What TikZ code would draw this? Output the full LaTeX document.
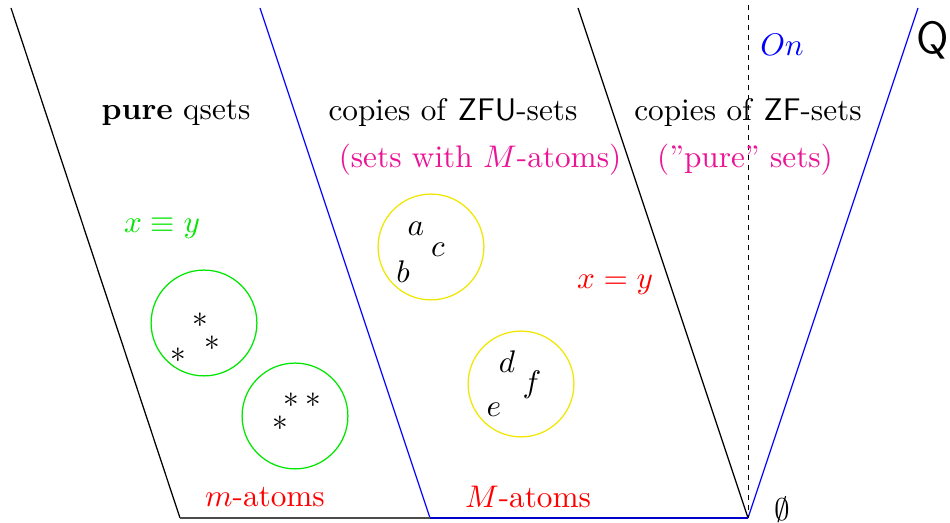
\documentclass[tikz,border=0pt]{standalone}
\usepackage{amsmath, amssymb}
\usepackage{tikz}
\usetikzlibrary{positioning}
\definecolor{SetPink}{RGB}{235, 20, 150}
\definecolor{PureGreen}{RGB}{0, 230, 0}
\definecolor{AtomYellow}{RGB}{240, 230, 0}

\begin{document}
\begin{tikzpicture}[x=0.01125cm, y=-0.01125cm,
    blob/.style={circle, draw, thin, minimum size=1.19cm, inner sep=0pt}]
    \useasboundingbox (0,0) rectangle (950,523);

    % Boundaries
    \coordinate (tl) at (11,8);
    \coordinate (bl) at (180,518);
    \coordinate (tm) at (260,8);
    \coordinate (bm) at (430,518);
    \coordinate (tr) at (578,8);
    \coordinate (br) at (748,518);
    \coordinate (tq) at (918,8);
    \coordinate (to) at (748,5);

    \draw[thin] (tl) -- (bl);
    \draw[thin, blue] (tm) -- (bm);
    \draw[thin] (tr) -- (br);
    \draw[thin, blue] (br) -- (tq);
    \draw[very thin, dash pattern=on 1.6pt off 1.6pt] (to) -- (br);
    \draw[semithick, black!70] (bl) -- (bm);
    \draw[semithick, blue!80!black] (bm) -- (br);

    % Headers
    \node (pure) at (176,113) {\textbf{pure} qsets};
    \node (zfu) at (453,113) {copies of \textsf{ZFU}-sets};
    \node[SetPink] (zfuatoms) at (480,160) {(sets with $M$-atoms)};
    \node (zf) at (748,113) {copies of \textsf{ZF}-sets};
    \node[SetPink] (zfpure) at (745,160) {(''pure'' sets)};
    \node[blue] (on) at (782,45) {$On$};
    \node[font=\Large\sffamily] (q) at (933,40) {Q};

    % Equalities
    \node[PureGreen] (equiv) at (162,228) {$x \equiv y$};
    \node[red] (eq) at (615,285) {$x = y$};

    % Atoms
    \node[red] (matoms) at (265,497) {$m$-atoms};
    \node[red] (Matoms) at (528,497) {$M$-atoms};
    \node (empty) at (782,510) {$\emptyset$};

    % Circles
    \node[blob, PureGreen] (g1) at (204,323) {};
    \node[blob, PureGreen] (g2) at (295,416) {};
    \node[blob, AtomYellow] (y1) at (431,247) {};
    \node[blob, AtomYellow] (y2) at (521,384) {};

    \node (s1) at (200,320) {$*$};
    \node (s2) at (212,343) {$*$};
    \node (s3) at (178,355) {$*$};
    \node (s4) at (291,400) {$*$};
    \node (s5) at (313,400) {$*$};
    \node (s6) at (280,423) {$*$};

    \node (a) at (416,229) {$a$};
    \node (c) at (438,250) {$c$};
    \node (b) at (403,272) {$b$};
    \node (d) at (507,362) {$d$};
    \node (f) at (532,385) {$f$};
    \node (e) at (494,410) {$e$};
  \end{tikzpicture}
\end{document}
